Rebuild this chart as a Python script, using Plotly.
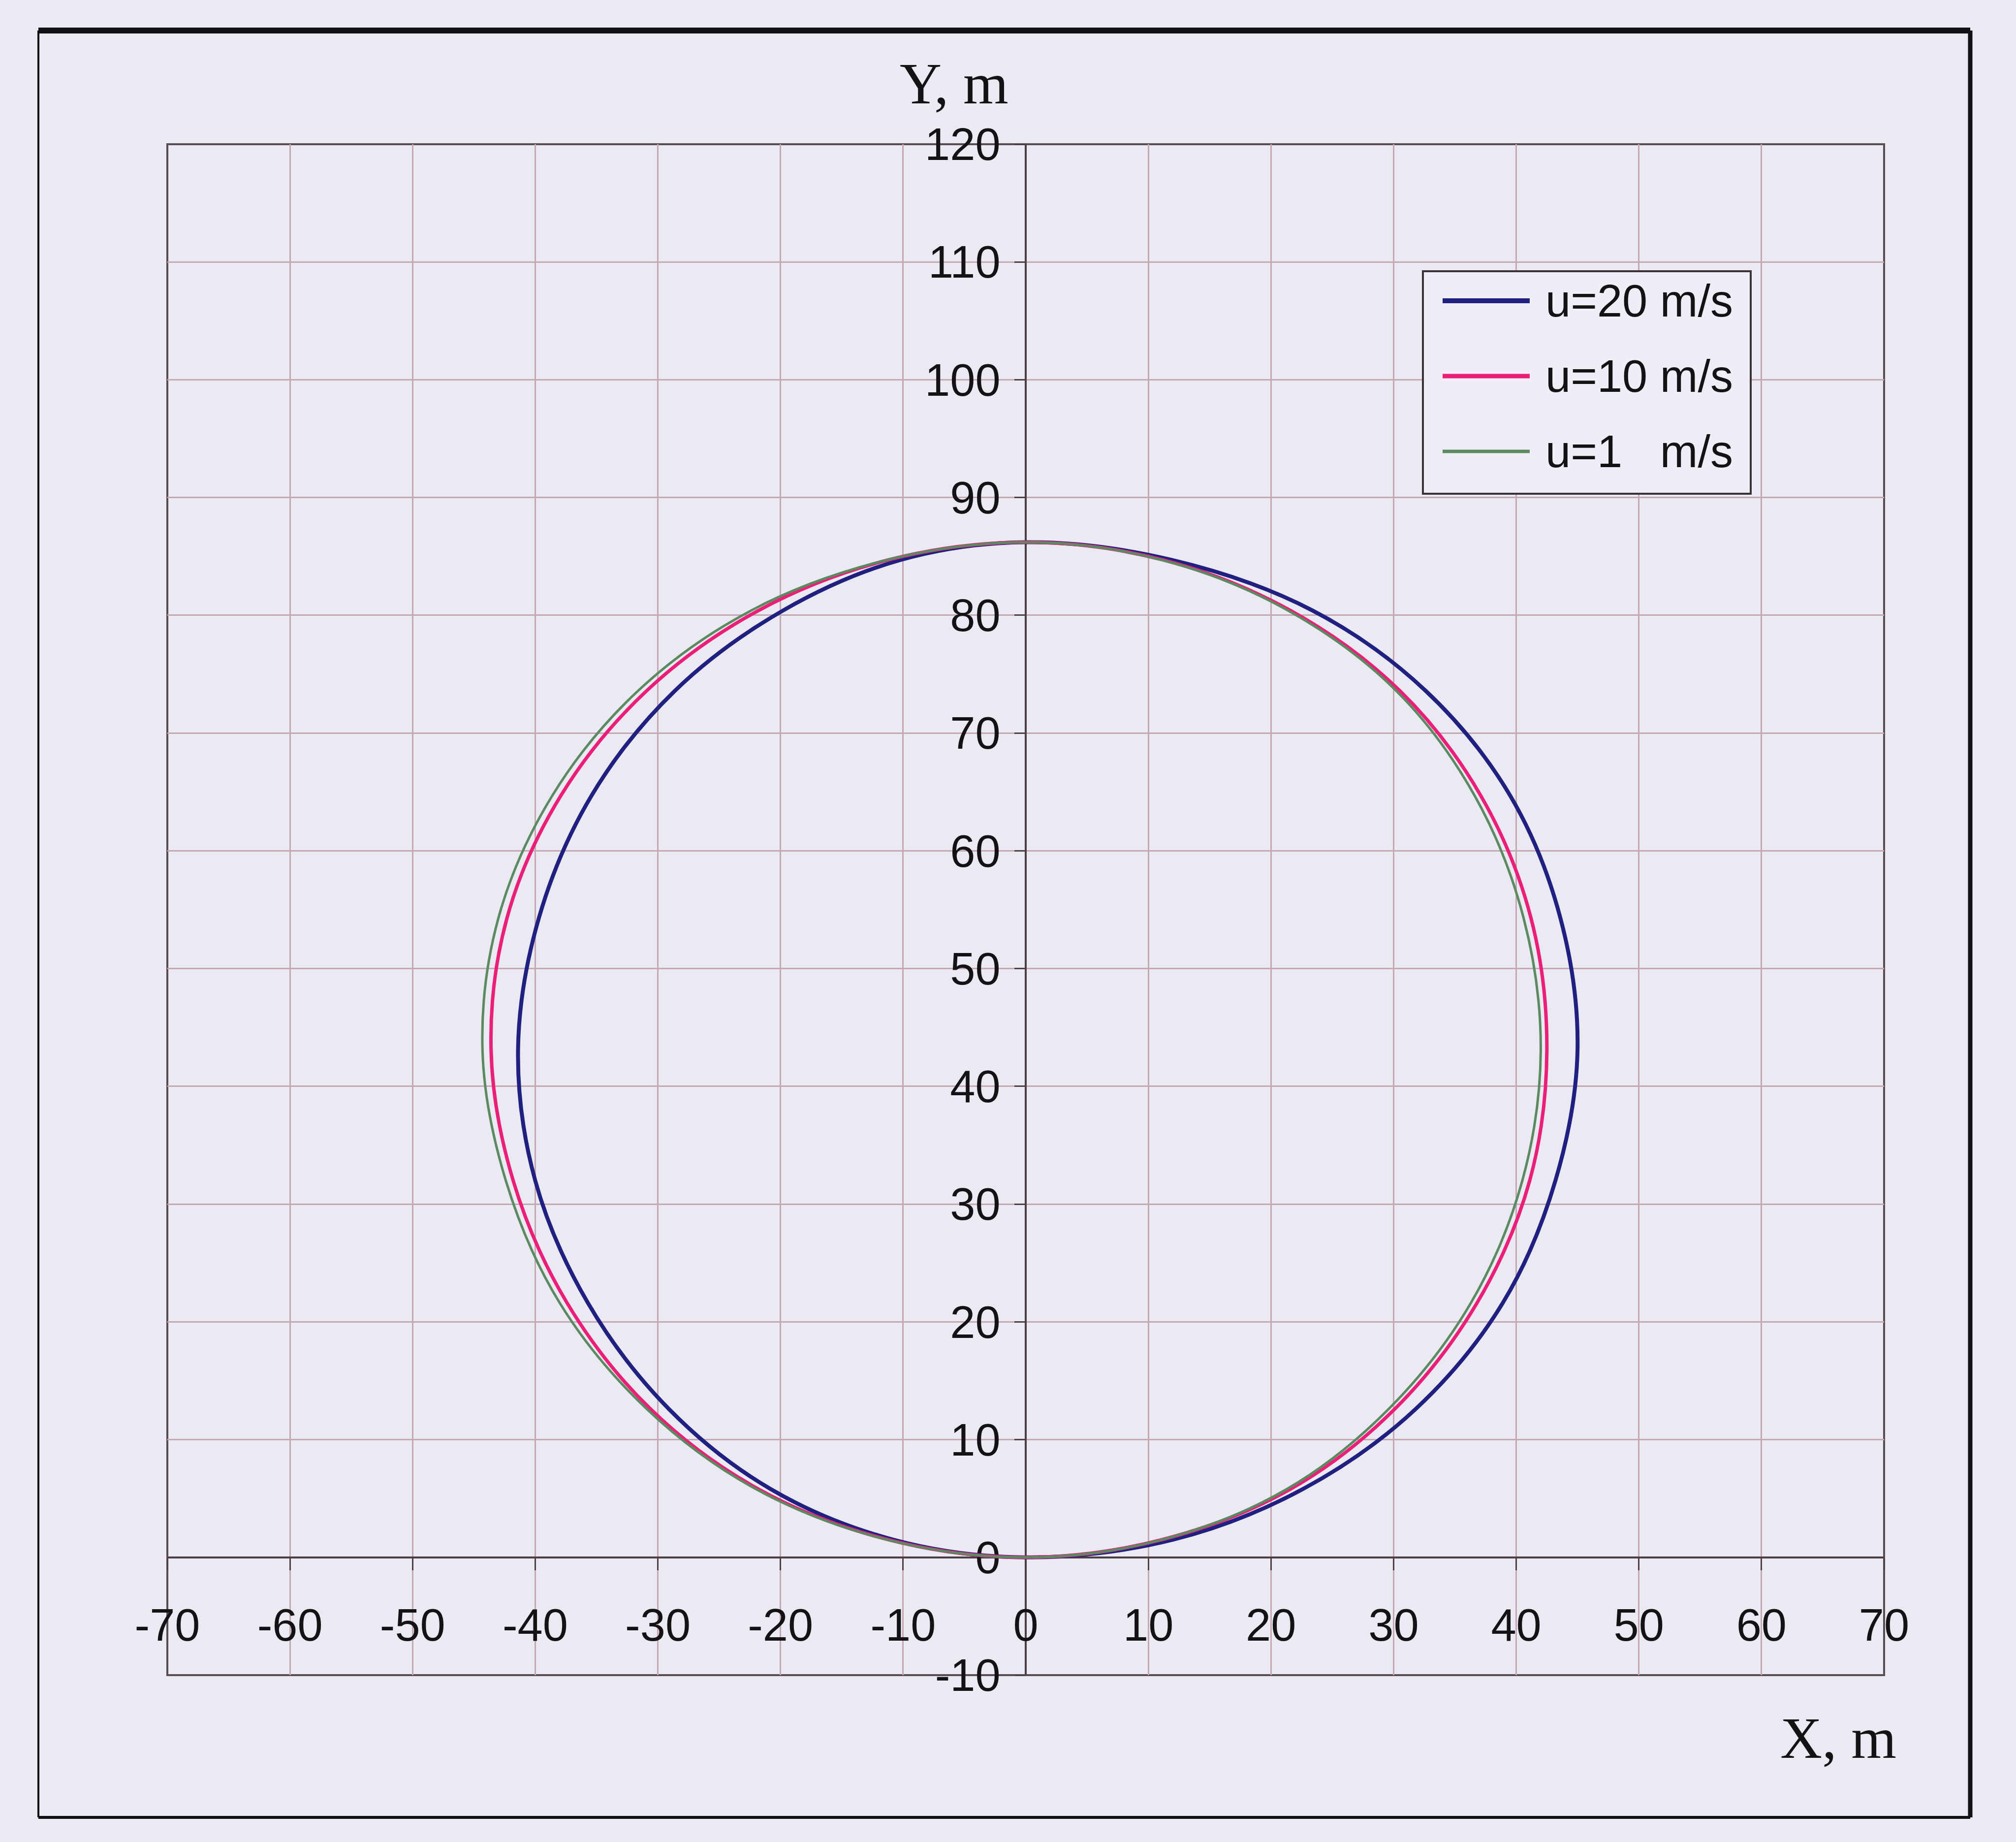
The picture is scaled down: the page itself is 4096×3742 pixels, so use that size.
import plotly.graph_objects as go

# ---- trajectory data (X, Y in metres) for three speeds ----
# points run counter-clockwise from the origin round the loop and back
y_loop = [0, 1.5, 5.8, 12.6, 21.6, 32.0, 43.1, 54.3, 64.7, 73.6, 80.4, 84.7, 86.2,
          84.7, 80.4, 73.6, 64.7, 54.3, 43.1, 32.0, 21.6, 12.6, 5.8, 1.5, 0]

x_u20 = [0, 12.0, 22.6, 31.8, 38.9, 43.2, 45.0, 43.6, 39.5, 32.6, 23.4, 11.9, 0,
         -10.2, -19.8, -28.6, -35.4, -39.7, -41.4, -40.0, -35.7, -29.1, -20.8, -10.8, 0]
y_u20 = y_loop

x_u10 = [0, 11.1, 21.6, 30.1, 36.8, 41.1, 42.5, 41.2, 37.1, 30.5, 21.6, 11.2, 0,
         -11.2, -21.8, -30.9, -37.9, -42.3, -43.6, -41.8, -37.4, -30.6, -21.8, -11.2, 0]
y_u10 = y_loop

x_u1 = [0, 11.1, 21.3, 29.6, 36.3, 40.5, 42.0, 40.6, 36.6, 30.2, 21.4, 11.1, 0,
        -11.3, -22.4, -31.6, -38.6, -43.0, -44.3, -42.4, -38.0, -30.9, -22.0, -11.3, 0]
y_u1 = y_loop

series_names = ["u=20 m/s", "u=10 m/s", "u=1\u00a0\u00a0\u00a0m/s"]
series_colors = ["#202080", "#ec1f78", "#5b8a62"]
series_widths = [8, 7, 5]

x_ticks = list(range(-70, 71, 10))
y_ticks = list(range(-10, 121, 10))

# ---- page geometry (pixels) ----
W, H = 4096, 3742
PX0, PX1 = 340, 3828      # plot area left / right
PY0, PY1 = 293, 3403      # plot area top / bottom


def px(xp):
    return (xp - PX0) / (PX1 - PX0)


def py(yp):
    return (PY1 - yp) / (PY1 - PY0)


BG = "#ebe9f2"
AXIS_COL = "#4d3f48"
GRID_COL = "#c4a9b4"
TXT = "#141214"
SANS = "Liberation Sans, Arial, sans-serif"
SERIF = "Liberation Serif, Times New Roman, serif"

fig = go.Figure()
for xs, ys, name, col, lw in zip([x_u20, x_u10, x_u1], [y_u20, y_u10, y_u1],
                                 series_names, series_colors, series_widths):
    fig.add_trace(go.Scatter(
        x=xs, y=ys, mode="lines", name=name, showlegend=False,
        line=dict(color=col, width=lw, shape="spline", smoothing=1.0),
    ))

fig.update_layout(
    width=W, height=H,
    margin=dict(l=PX0, r=W - PX1, t=PY0, b=H - PY1),
    paper_bgcolor=BG, plot_bgcolor=BG,
    font=dict(family=SANS, size=92, color=TXT),
    showlegend=False,
    xaxis=dict(
        range=[-70, 70], tickmode="array", tickvals=x_ticks,
        ticktext=[str(v) for v in x_ticks],
        anchor="free", position=10 / 130,
        showline=True, linecolor=AXIS_COL, linewidth=4,
        ticks="outside", ticklen=24, tickwidth=3, tickcolor=AXIS_COL,
        ticklabelstandoff=33,
        showgrid=True, gridcolor=GRID_COL, gridwidth=2.5,
        zeroline=False, layer="below traces",
        tickfont=dict(family=SANS, size=92, color=TXT),
    ),
    yaxis=dict(
        range=[-10, 120], tickmode="array", tickvals=y_ticks,
        ticktext=[str(v) for v in y_ticks],
        anchor="free", position=0.5,
        showline=True, linecolor=AXIS_COL, linewidth=4,
        ticks="outside", ticklen=21, tickwidth=3, tickcolor=AXIS_COL,
        ticklabelstandoff=10,
        showgrid=True, gridcolor=GRID_COL, gridwidth=2.5,
        zeroline=False, layer="below traces",
        tickfont=dict(family=SANS, size=92, color=TXT),
    ),
)

# plot-area border
fig.add_shape(type="rect", xref="paper", yref="paper", x0=0, y0=0, x1=1, y1=1,
              line=dict(color="#5a4c55", width=4), layer="below")

# outer frame of the figure
frame = [
    (78, 62, 4003, 62, 12),      # top
    (4003, 62, 4003, 3692, 9),   # right
    (78, 62, 78, 3692, 4),       # left
    (78, 3692, 4003, 3692, 6),   # bottom
]
for x0, y0, x1, y1, w in frame:
    fig.add_shape(type="line", xref="paper", yref="paper",
                  x0=px(x0), y0=py(y0), x1=px(x1), y1=py(y1),
                  line=dict(color="#111014", width=w))

# legend box with sample lines and labels
LEG_L, LEG_R, LEG_T, LEG_B = 2891, 3557, 551, 1003
fig.add_shape(type="rect", xref="paper", yref="paper",
              x0=px(LEG_L), x1=px(LEG_R), y0=py(LEG_B), y1=py(LEG_T),
              fillcolor="#efeef6", line=dict(color="#3a3035", width=4), layer="above")
for i, (name, col, lw) in enumerate(zip(series_names, series_colors, series_widths)):
    yc = 611 + 153 * i
    fig.add_shape(type="line", xref="paper", yref="paper",
                  x0=px(2931), x1=px(3108), y0=py(yc), y1=py(yc),
                  line=dict(color=col, width=lw + 2), layer="above")
    fig.add_annotation(text=name, xref="paper", yref="paper", x=px(3138), y=py(yc),
                       showarrow=False, xanchor="left", yanchor="middle",
                       font=dict(family=SANS, size=92, color=TXT))

# axis titles
fig.add_annotation(text="Y, m", xref="paper", yref="paper", x=px(1938), y=py(170),
                   showarrow=False, xanchor="center", yanchor="middle",
                   font=dict(family=SERIF, size=118, color=TXT))
fig.add_annotation(text="X, m", xref="paper", yref="paper", x=px(3735), y=py(3531),
                   showarrow=False, xanchor="center", yanchor="middle",
                   font=dict(family=SERIF, size=118, color=TXT))

fig.write_html("out.html")
